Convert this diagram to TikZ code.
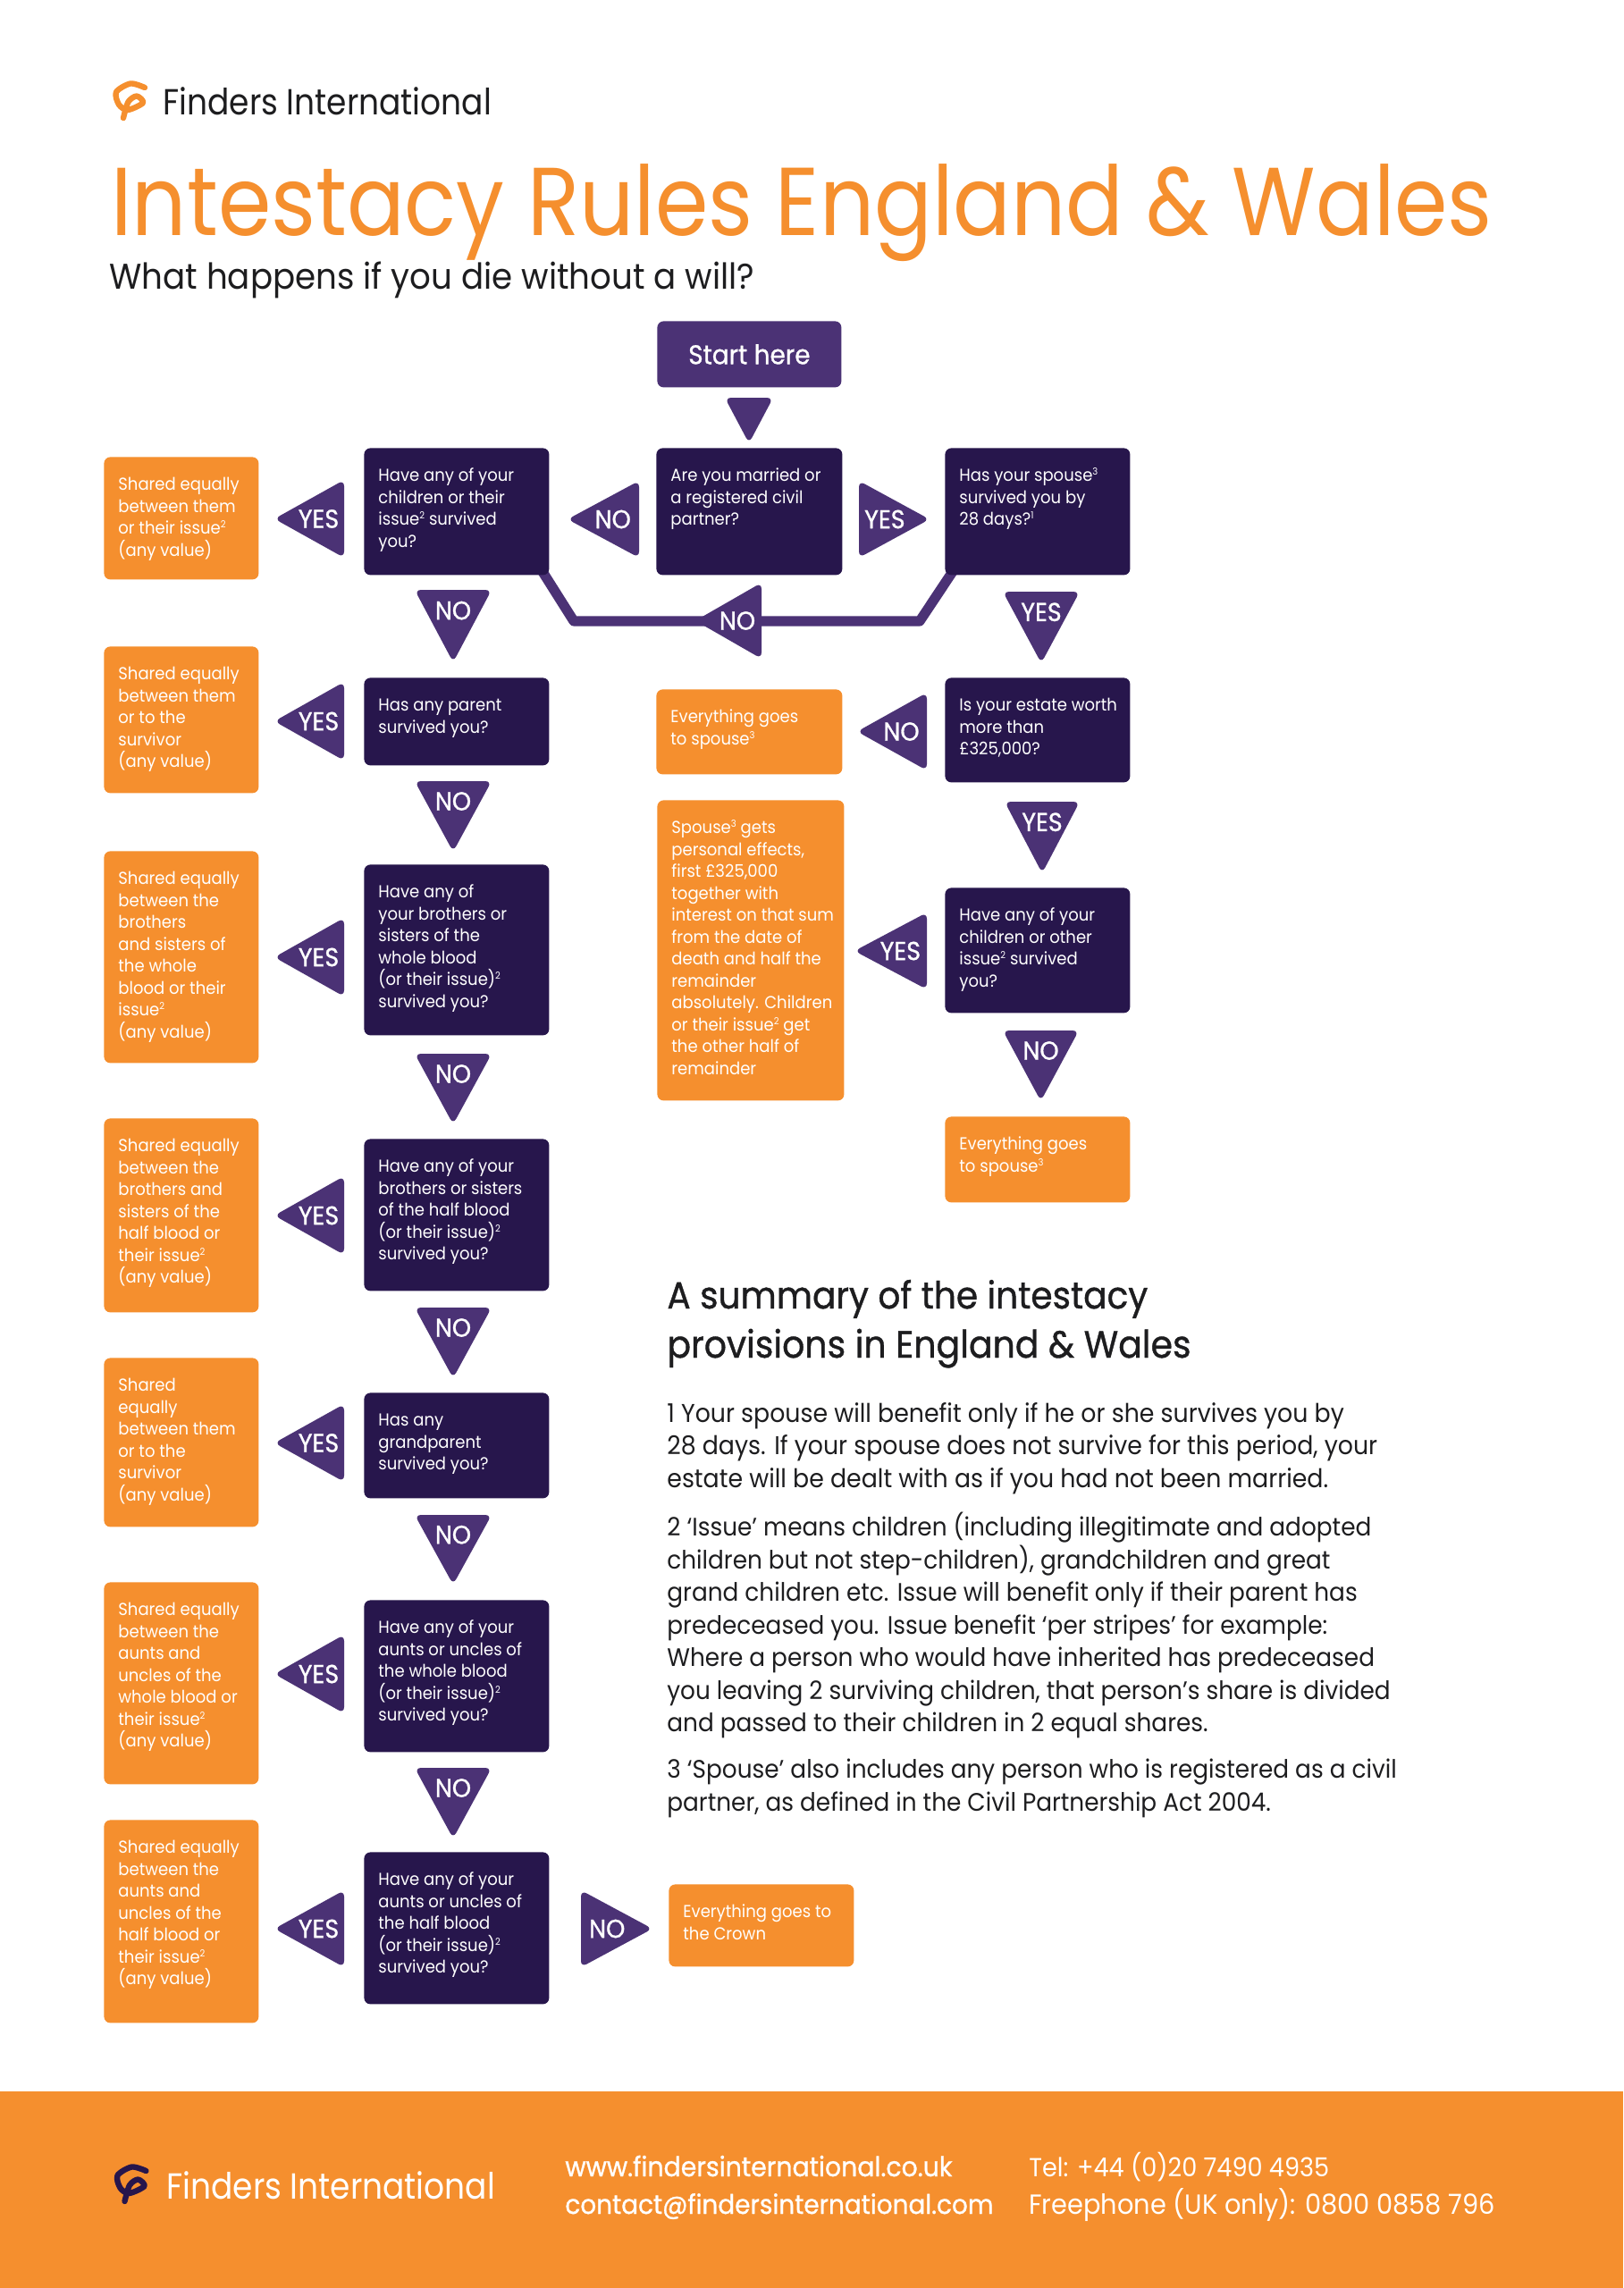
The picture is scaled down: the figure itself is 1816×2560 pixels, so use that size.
\documentclass[tikz,border=0pt]{standalone}
\usepackage{fontspec}
\setmainfont{Poppins}[FakeStretch=0.93]
\newfontfamily\medf{Poppins}[FakeStretch=0.93,FakeBold=0.9]
\newfontfamily\titf{Poppins}[FakeStretch=0.886]
\usetikzlibrary{calc}
\definecolor{org}{HTML}{F58F2E}
\definecolor{drk}{HTML}{27164C}
\definecolor{pur}{HTML}{4B3275}
\definecolor{ink}{HTML}{1D1D1F}
\pgfdeclarelayer{bg}
\pgfsetlayers{bg,main}
\newcommand{\sq}[1]{\raisebox{3.6pt}{\fontsize{5.4}{5.4}\selectfont #1}}
\newcommand{\bx}[7]{% name style x1 y1 x2 y2 text
  \pgfmathsetlengthmacro\bw{(#5-#3)*0.5pt}%
  \pgfmathsetlengthmacro\bh{(#6-#4)*0.5pt}%
  \node[#2,minimum width=\bw,minimum height=\bh,anchor=north west,inner sep=0pt] (#1) at (#3,#4)
   {\parbox[c][\bh][t]{\bw}{\raggedright\leftskip=8pt\rightskip=-100pt plus 1fil\parindent=0pt\parskip=0pt
    \fontsize{9.7}{12.25}\selectfont\lineskiplimit=-100pt\rule{0pt}{18.7pt}#7}};}
\newcommand{\trl}[6]{% name x1 y1 x2 y2 label : points left
  \fill[tri] ({#2-3},{(#3+#5)/2}) -- (#4,#3) -- (#4,#5) -- cycle;
  \node[trilab] (#1) at ({#2+0.62*(#4-#2)},{(#3+#5)/2}) {#6};}
\newcommand{\trr}[6]{% points right
  \fill[tri] ({#4+3},{(#3+#5)/2}) -- (#2,#3) -- (#2,#5) -- cycle;
  \node[trilab] (#1) at ({#2+0.38*(#4-#2)},{(#3+#5)/2}) {#6};}
\newcommand{\trd}[6]{% points down
  \fill[tri] ({(#2+#4)/2},{#5+4}) -- (#2,#3) -- (#4,#3) -- cycle;
  \node[trilab] (#1) at ({(#2+#4)/2},{#3+0.30*(#5-#3)}) {#6};}
\newcommand{\logo}[3]{% dx dy colour
  \draw[#3,line width=3.2pt,line cap=round,line join=round,shift={(#1,#2)}] plot[smooth] coordinates
   {(162,98) (146,93.5) (130,103) (133,117) (143,123) (160,115) (153,107.5) (143.5,114) (138,132)};}
\tikzset{
  dk/.style={fill=drk,rounded corners=3.5pt,text=white},
  og/.style={fill=org,rounded corners=3.5pt,text=white},
  tri/.style={fill=pur,rounded corners=3.5pt},
  trilab/.style={text=white,font=\medf\fontsize{14.5}{14.5}\selectfont,inner sep=0pt},
  conn/.style={draw=pur,line width=5.6pt,line join=round},
  line/.style={anchor=base west,inner sep=0pt},
}
\begin{document}
\begin{tikzpicture}[x=0.5pt,y=-0.5pt]
\useasboundingbox (0,0) rectangle (1816,2560);
\begin{pgfonlayer}{bg}
\fill[white] (0,0) rectangle (1816,2560);
\end{pgfonlayer}
\fill[org] (0,2340) rectangle (1816,2560);
% header
\logo{0}{0}{org}
\node[line,text=ink,font=\titf\fontsize{20.3}{20.3}\selectfont] (brand) at (182,128) {Finders International};
\node[line,text=org,font=\titf\fontsize{54}{54}\selectfont] (title) at (124,263) {Intestacy Rules England \& Wales};
\node[line,text=ink,font=\fontsize{20}{20}\selectfont] (sub) at (122,323) {What happens if you die without a will?};
% start
\node[fill=pur,rounded corners=3.5pt,text=white,minimum width=103pt,minimum height=37pt,anchor=north west,inner sep=0pt,font=\medf\fontsize{15}{15}\selectfont] (start) at (735,359) {Start here};
% question boxes
\bx{D1}{dk}{407}{501}{614}{643}{Have any of your\\children or their\\issue\sq{2} survived\\you?}
\bx{D2}{dk}{407}{758}{614}{856}{Has any parent\\survived you?}
\bx{D3}{dk}{407}{967}{614}{1158}{Have any of\\your brothers or\\sisters of the\\whole blood\\(or their issue)\sq{2}\\survived you?}
\bx{D4}{dk}{407}{1274}{614}{1444}{Have any of your\\brothers or sisters\\of the half blood\\(or their issue)\sq{2}\\survived you?}
\bx{D5}{dk}{407}{1558}{614}{1676}{Has any\\grandparent\\survived you?}
\bx{D6}{dk}{407}{1790}{614}{1960}{Have any of your\\aunts or uncles of\\the whole blood\\(or their issue)\sq{2}\\survived you?}
\bx{D7}{dk}{407}{2072}{614}{2242}{Have any of your\\aunts or uncles of\\the half blood\\(or their issue)\sq{2}\\survived you?}
\bx{C1}{dk}{734}{501}{942}{643}{Are you married or\\a registered civil\\partner?}
\bx{R1}{dk}{1057}{501}{1264}{643}{Has your spouse\sq{3}\\survived you by\\28 days?\sq{1}}
\bx{R2}{dk}{1057}{758}{1264}{875}{Is your estate worth\\more than\\£325,000?}
\bx{R3}{dk}{1057}{993}{1264}{1133}{Have any of your\\children or other\\issue\sq{2} survived\\you?}
% outcomes
\bx{O1}{og}{116}{511}{289}{648}{Shared equally\\between them\\or their issue\sq{2}\\(any value)}
\bx{O2}{og}{116}{723}{289}{887}{Shared equally\\between them\\or to the\\survivor\\(any value)}
\bx{O3}{og}{116}{952}{289}{1189}{Shared equally\\between the\\brothers\\and sisters of\\the whole\\blood or their\\issue\sq{2}\\(any value)}
\bx{O4}{og}{116}{1251}{289}{1468}{Shared equally\\between the\\brothers and\\sisters of the\\half blood or\\their issue\sq{2}\\(any value)}
\bx{O5}{og}{116}{1519}{289}{1708}{Shared\\equally\\between them\\or to the\\survivor\\(any value)}
\bx{O6}{og}{116}{1770}{289}{1996}{Shared equally\\between the\\aunts and\\uncles of the\\whole blood or\\their issue\sq{2}\\(any value)}
\bx{O7}{og}{116}{2036}{289}{2263}{Shared equally\\between the\\aunts and\\uncles of the\\half blood or\\their issue\sq{2}\\(any value)}
\bx{S1}{og}{734}{771}{942}{866}{Everything goes\\to spouse\sq{3}}
\bx{S2}{og}{735}{895}{944}{1231}{Spouse\sq{3} gets\\personal effects,\\first £325,000\\together with\\interest on that sum\\from the date of\\death and half the\\remainder\\absolutely. Children\\or their issue\sq{2} get\\the other half of\\remainder}
\bx{S3}{og}{1057}{1249}{1264}{1345}{Everything goes\\to spouse\sq{3}}
\bx{CR}{og}{748}{2108}{955}{2200}{Everything goes to\\the Crown}
% connector
\coordinate (lc) at (642,695);
\coordinate (rc) at (1029,695);
\begin{pgfonlayer}{bg}
\draw[conn] ($(R1.south west)+(14,-12)$) -- (rc) -- (lc) -- ($(D1.south east)+(-14,-14)$);
\end{pgfonlayer}
% triangles
\trd{Tstart}{811}{445}{865}{492}{}
\trl{TN1}{638}{538}{715}{624}{NO}
\trr{TY1}{961}{538}{1037}{624}{YES}
\trl{TY0}{310}{537}{385}{624}{YES}
\trd{TY2}{1122}{662}{1208}{738}{YES}
\trl{TN2}{781}{652}{852}{737}{NO}
\trl{TN3}{962}{775}{1037}{862}{NO}
\trd{TY3}{1124}{897}{1208}{973}{YES}
\trl{TY4}{959}{1021}{1037}{1107}{YES}
\trd{TN4}{1122}{1153}{1207}{1228}{NO}
\trd{N1}{464}{660}{550}{737}{NO}
\trl{Y2}{310}{763}{385}{851}{YES}
\trd{N2}{464}{874}{550}{949}{NO}
\trl{Y3}{310}{1027}{385}{1115}{YES}
\trd{N3}{464}{1179}{550}{1254}{NO}
\trl{Y4}{310}{1316}{385}{1404}{YES}
\trd{N4}{464}{1463}{550}{1538}{NO}
\trl{Y5}{310}{1571}{385}{1658}{YES}
\trd{N5}{464}{1695}{550}{1769}{NO}
\trl{Y6}{310}{1829}{385}{1917}{YES}
\trd{N6}{464}{1978}{550}{2053}{NO}
\trl{Y7}{310}{2115}{385}{2201}{YES}
\trr{N7}{650}{2115}{727}{2201}{NO}
% summary
\node[line,text=ink,font=\medf\fontsize{21}{21}\selectfont] (h1) at (746,1464) {A summary of the intestacy};
\node[line,text=ink,font=\medf\fontsize{21.2}{21}\selectfont] (h2) at (746,1519) {provisions in England \& Wales};
\newcommand{\para}[4]{\node[anchor=north west,inner sep=0pt,text=ink,align=left,font=\fontsize{#4}{18.25}\selectfont] (#1) at (746,#2) {#3};}
\para{P1}{1569}{1 Your spouse will benefit only if he or she survives you by\\28 days. If your spouse does not survive for this period, your\\estate will be dealt with as if you had not been married.}{14.4}
\para{P2}{1692}{2 ‘Issue’ means children (including illegitimate and adopted\\children but not step-children), grandchildren and great\\grand children etc. Issue will benefit only if their parent has\\predeceased you. Issue benefit ‘per stripes’ for example:\\Where a person who would have inherited has predeceased\\you leaving 2 surviving children, that person’s share is divided\\and passed to their children in 2 equal shares.}{14.15}
\para{P3}{1968}{3 ‘Spouse’ also includes any person who is registered as a civil\\partner, as defined in the Civil Partnership Act 2004.}{14.15}
% footer
\logo{1.5}{2331}{drk}
\node[line,text=white,font=\titf\fontsize{20.3}{20.3}\selectfont] (fbrand) at (186,2460) {Finders International};
\node[line,text=white,font=\medf\fontsize{15.25}{15}\selectfont] (web) at (632,2435) {www.findersinternational.co.uk};
\node[line,text=white,font=\medf\fontsize{15}{15}\selectfont] (mail) at (632,2477) {contact@findersinternational.com};
\node[line,text=white,font=\fontsize{14.6}{15}\selectfont] (tel) at (1151,2435) {Tel: +44 (0)20 7490 4935};
\node[line,text=white,font=\fontsize{15.5}{15}\selectfont] (free) at (1151,2477) {Freephone (UK only): 0800 0858 796};
\end{tikzpicture}
\end{document}
